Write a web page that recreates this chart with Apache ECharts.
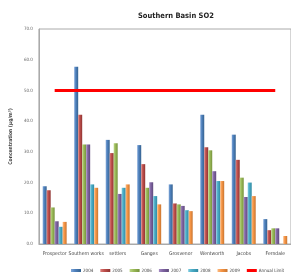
<!DOCTYPE html>
<html><head><meta charset="utf-8">
<script src="https://cdn.jsdelivr.net/npm/echarts@6/dist/echarts.min.js"></script>
<style>html,body{margin:0;padding:0;background:#fff}#c{width:291px;height:280px}</style>
</head><body><div id="c"></div>
<script>
const categories = ["Prospector","Southern works","settlers","Ganges","Grosvenor","Wentworth","Jacobs","Ferndale"];
const years = ["2004","2005","2006","2007","2008","2009"];
const v2004 = [18.8, 57.7, 33.9, 32.2, 19.4, 42.1, 35.6, 8.1];
const v2005 = [17.5, 42.1, 29.6, 26.0, 13.2, 31.5, 27.4, 4.5];
const v2006 = [11.9, 32.4, 32.8, 18.3, 12.9, 30.5, 21.6, 5.1];
const v2007 = [7.4, 32.4, 16.3, 20.1, 12.4, 23.7, 15.3, 5.1];
const v2008 = [5.6, 19.4, 18.3, 15.6, 11.0, 20.5, 20.0, 0];
const v2009 = [7.2, 18.3, 19.4, 12.9, 10.7, 20.5, 15.6, 2.6];
const annualLimit = [50, 50, 50, 50, 50, 50, 50, 50];
const yTicks = [0, 10, 20, 30, 40, 50, 60, 70];

const seriesValues = [v2004, v2005, v2006, v2007, v2008, v2009];
const baseColors = ["#4F81BD","#C0504D","#9BBB59","#8064A2","#4BACC6","#F79646"];
const lightColors = ["#7FA6D8","#DA7E7B","#BCD688","#A58BC4","#7CCBE0","#FBBA82"];
const darkColors = ["#35628F","#8F3331","#76923C","#5E4A7C","#2F8AA3","#C87530"];
const FONT = 'DejaVu Sans Condensed, Liberation Sans Narrow, sans-serif';

function grad(i){
  return new echarts.graphic.LinearGradient(0,0,1,0,[
    {offset:0,color:lightColors[i]},{offset:0.4,color:baseColors[i]},{offset:1,color:darkColors[i]}]);
}

const chart = echarts.init(document.getElementById('c'), null, {renderer:'canvas'});
const series = years.map((y,i)=>({
  name:y, type:'bar', data:seriesValues[i], barGap:'0%', barCategoryGap:'24%',
  itemStyle:{color:grad(i)}
}));
series.push({name:'Annual Limit', type:'line', data:annualLimit, symbol:'none',
  lineStyle:{color:'#FF0000', width:3}, itemStyle:{color:'#FF0000'}, z:5});

chart.setOption({
  animation:false,
  title:{text:'Southern Basin SO2', left:133, top:7,
    textStyle:{fontFamily:FONT, fontSize:7.5, fontWeight:'bold', color:'#222'}},
  grid:{left:28, top:29, width:268, height:215, show:true, borderColor:'#aaa', borderWidth:1},
  legend:{bottom:2, left:66, itemWidth:10, itemHeight:3, itemGap:7,
    textStyle:{fontSize:4.5, color:'#444', fontFamily:FONT, padding:[0,0,0,-3]},
    data:years.map(y=>({name:y, icon:'rect'})).concat([{name:'Annual Limit', icon:'rect'}])},
  xAxis:{type:'category', data:categories,
    axisLine:{lineStyle:{color:'#aaa'}}, axisTick:{show:false},
    axisLabel:{fontSize:5, color:'#444', margin:7, interval:0, fontFamily:FONT}},
  yAxis:{type:'value', min:yTicks[0], max:yTicks[yTicks.length-1], interval:10,
    name:'Concentration (\u00b5g/m\u00b3)', nameLocation:'middle', nameGap:18,
    nameTextStyle:{fontSize:5, fontWeight:'bold', color:'#444', fontFamily:FONT},
    axisLine:{show:true, lineStyle:{color:'#aaa'}}, axisTick:{show:false}, splitLine:{show:false},
    axisLabel:{fontSize:4.5, color:'#666', margin:6, fontFamily:FONT, formatter:v=>v.toFixed(1)}},
  series:series
});
</script></body></html>
